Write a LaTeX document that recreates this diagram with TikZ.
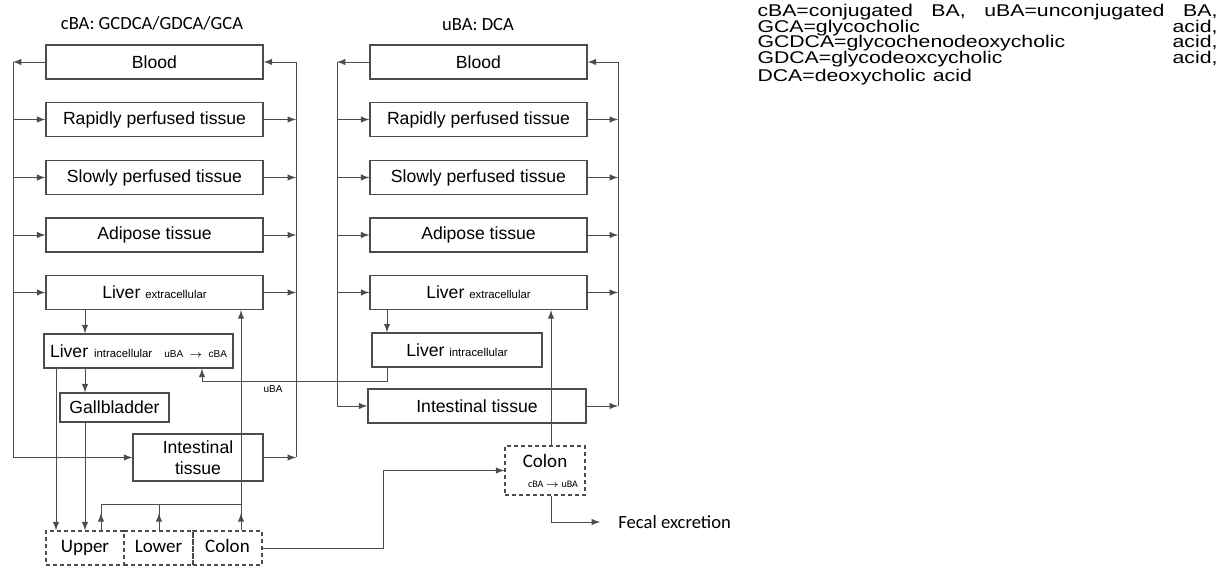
\documentclass[tikz,border=0pt]{standalone}
\usepackage{fontspec}
\setmainfont{Liberation Sans}
\newfontfamily\calibri{Carlito}
\usetikzlibrary{positioning}
\newcommand{\boxsize}{\fontsize{8.8pt}{10.5pt}\selectfont}
\newcommand{\subsize}{\fontsize{5.7pt}{6.5pt}\selectfont}
\newcommand{\notesize}{\fontsize{5pt}{6pt}\selectfont}
\newcommand{\lumensize}{\calibri\fontsize{9.5pt}{11pt}\selectfont}
\newcommand{\legendsize}{\fontsize{8.5pt}{7.75pt}\selectfont}
\tikzset{
  comp/.style={draw=black!70, line width=0.75pt, inner sep=0pt, font=\boxsize},
  wide/.style={comp, minimum width=108.5pt, minimum height=17pt},
  lumen/.style={comp, dash pattern=on 2pt off 1.5pt, font=\lumensize},
  seg/.style={lumen, minimum height=17pt, text height=6.6pt, text depth=1.8pt},
  conn/.style={-latex, draw=black!70, line width=0.45pt},
  bus/.style={draw=black!70, line width=0.45pt},
}
\begin{document}
\begin{tikzpicture}[x=0.5pt, y=-0.5pt]
  \useasboundingbox (0,0) rectangle (1221,566);

  % titles
  \node[font=\calibri\fontsize{9.3pt}{11pt}\selectfont] (titleL) at (152,23) {cBA: GCDCA/GDCA/GCA};
  \node[font=\calibri\fontsize{9.3pt}{11pt}\selectfont] (titleR) at (478,25) {uBA: DCA};

  % conjugated BA
  \node[wide] (bloodL) at (154.5,62) {Blood};
  \node[wide] (rapidL) at (154.5,119.5) {Rapidly perfused tissue};
  \node[wide] (slowL) at (154.5,177.5) {Slowly perfused tissue};
  \node[wide] (adipL) at (154.5,235) {Adipose tissue};
  \node[wide] (livexL) at (154.5,292.5) {Liver {\subsize extracellular}};
  \node[comp, inner xsep=3pt, text width=88.5pt, minimum height=17pt, align=left] (livinL) at (138.5,351)
    {Liver {\subsize intracellular}\hfill{\notesize uBA $\rightarrow$ cBA}};
  \node[comp, minimum width=54.5pt, minimum height=14.5pt] (gallL) at (114.5,407.5) {Gallbladder};
  \node[comp, minimum width=65pt, minimum height=23.5pt, align=center] (intL) at (198,457.5) {Intestinal\\tissue};
  \node[seg, minimum width=39pt] (upper) at (85,548) {Upper};
  \node[seg, minimum width=34.5pt] (lower) at (158.5,548) {Lower};
  \node[seg, minimum width=34.5pt] (colonL) at (227.5,548) {Colon};

  % unconjugated BA
  \node[wide] (bloodR) at (478.5,62) {Blood};
  \node[wide] (rapidR) at (478.5,119.5) {Rapidly perfused tissue};
  \node[wide] (slowR) at (478.5,177.5) {Slowly perfused tissue};
  \node[wide] (adipR) at (478.5,235) {Adipose tissue};
  \node[wide] (livexR) at (478.5,292.5) {Liver {\subsize extracellular}};
  \node[comp, minimum width=85pt, minimum height=17pt] (livinR) at (457,350) {Liver {\subsize intracellular}};
  \node[comp, minimum width=109pt, minimum height=17pt] (intR) at (477,406) {Intestinal tissue};
  \node[lumen, minimum width=40pt, minimum height=24.5pt, align=center] (colonR) at (545,470.5)
    {Colon\\[-1pt]\hspace*{8pt}{\notesize cBA $\rightarrow$ uBA}};
  \node[font=\calibri\fontsize{9.3pt}{11pt}\selectfont, anchor=west, inner xsep=9pt, inner ysep=0pt] (fecal) at (600,522) {Fecal excretion};

  \coordinate (busLl) at (13,0);
  \coordinate (busLr) at (296,0);
  \coordinate (busRl) at (337,0);
  \coordinate (busRr) at (618,0);
  \coordinate (tapL) at (85,0);
  \coordinate (bypL) at (56,0);
  \coordinate (upx) at (101,0);
  \coordinate (lowx) at (159,0);
  \coordinate (retL) at (241,0);
  \coordinate (joinL) at (0,504);
  \coordinate (tapR) at (387,0);
  \coordinate (retR) at (551,0);
  \coordinate (ubaX) at (202,0);
  \coordinate (ubaY) at (0,381);
  \coordinate (hopX) at (383,0);

  % circulation
  \draw[conn] (bloodL.west) -- (bloodL.west -| busLl);
  \draw[bus] (bloodL.west -| busLl) -- (intL.west -| busLl);
  \draw[conn] (bloodL.east -| busLr) -- (bloodL.east);
  \draw[bus] (bloodL.east -| busLr) -- (intL.east -| busLr);
  \foreach \n in {rapidL,slowL,adipL,livexL,intL} {
    \draw[conn] (\n.west -| busLl) -- (\n.west);
    \draw[conn] (\n.east) -- (\n.east -| busLr);
  }
  \draw[conn] (bloodR.west) -- (bloodR.west -| busRl);
  \draw[bus] (bloodR.west -| busRl) -- (intR.west -| busRl);
  \draw[conn] (bloodR.east -| busRr) -- (bloodR.east);
  \draw[bus] (bloodR.east -| busRr) -- (intR.east -| busRr);
  \foreach \n in {rapidR,slowR,adipR,livexR,intR} {
    \draw[conn] (\n.west -| busRl) -- (\n.west);
    \draw[conn] (\n.east) -- (\n.east -| busRr);
  }

  % liver, bile and gut
  \draw[conn] (livexL.south -| tapL) -- (livinL.north -| tapL);
  \draw[conn] (livinL.south -| tapL) -- (gallL.north -| tapL);
  \draw[conn] (gallL.south -| tapL) -- (upper.north -| tapL);
  \draw[conn] (livinL.south -| bypL) -- (upper.north -| bypL);
  \foreach \b/\c in {upper/upx,lower/lowx,colonL/retL} {
    \draw[conn] (\b.north -| \c) -- ++(0,-17);
    \draw[bus] (\b.north -| \c) -- (joinL -| \c);
  }
  \draw[bus] (joinL -| upx) -- (joinL -| retL);
  \draw[conn] (joinL -| retL) -- (livexL.south -| retL);

  \draw[conn] (livexR.south -| tapR) -- (livinR.north -| tapR);
  \draw[conn] (livinR.south -| tapR) -- (tapR |- ubaY) -| (livinL.south -| ubaX);
  \node[font=\notesize] (ubaLab) at (273,389) {uBA};
  \draw[conn] (colonL.east) -| (hopX |- colonR.west) -- (colonR.west);
  \draw[conn] (colonR.north -| retR) -- (livexR.south -| retR);
  \draw[conn] (colonR.south -| retR) |- (fecal.west);

  % abbreviations
  \node[anchor=north west, inner sep=0pt, xscale=1.25, transform shape, text width=184pt, align=left,
        font=\legendsize] (legend) at (757,4)
    {\setlength{\lineskiplimit}{-10pt}%
     cBA=conjugated\hfill BA,\hfill uBA=unconjugated\hfill BA,\\
     GCA=glycocholic\hfill acid,\\
     GCDCA=glycochenodeoxycholic\hfill acid,\\
     GDCA=glycodeoxcycholic\hfill acid,\\
     DCA=deoxycholic acid};
\end{tikzpicture}
\end{document}
